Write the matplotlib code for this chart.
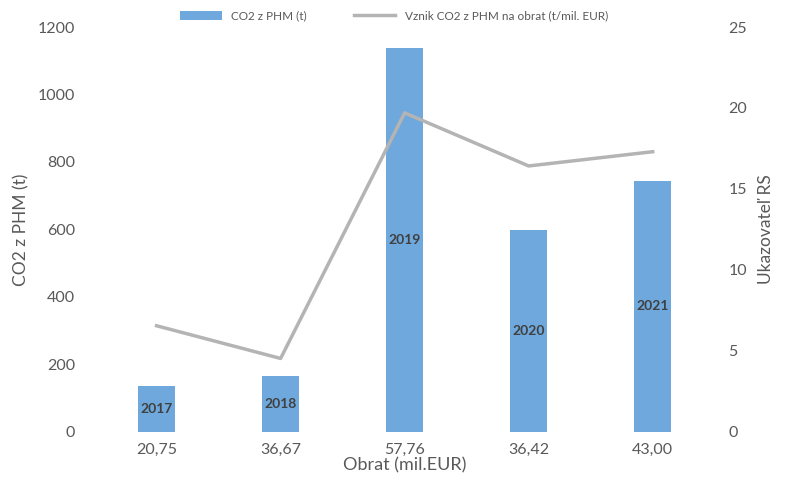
import matplotlib.pyplot as plt
import numpy as np

plt.rcParams['font.family'] = ['Lato', 'DejaVu Sans']

years = ['2017', '2018', '2019', '2020', '2021']
obrat_labels = ['20,75', '36,67', '57,76', '36,42', '43,00']
co2 = [136, 166, 1138, 598, 744]
co2_na_obrat = [6.55, 4.53, 19.7, 16.42, 17.3]

gray = '#595959'
fig = plt.figure(figsize=(7.88, 4.83), dpi=100)
ax = fig.add_axes([0.12, 0.106, 0.787, 0.838])
ax2 = ax.twinx()

x = np.arange(len(years))
bars = ax.bar(x, co2, width=0.3, color='#6ea8dc', label='CO2 z PHM (t)', zorder=2)
line, = ax2.plot(x, co2_na_obrat, color='#b4b4b4', lw=2.5,
                 label='Vznik CO2 z PHM na obrat (t/mil. EUR)')

for xi, v, yr in zip(x, co2, years):
    ax.text(xi, v / 2, yr, ha='center', va='center', fontsize=10,
            color='#404040', fontweight='bold', zorder=3)

ax.set_ylim(0, 1200)
ax.set_yticks(range(0, 1201, 200))
ax2.set_ylim(0, 25)
ax2.set_yticks(range(0, 26, 5))
ax.set_xlim(-0.5, 4.5)
ax.set_xticks(x)
ax.set_xticklabels(obrat_labels)

for a in (ax, ax2):
    for s in a.spines.values():
        s.set_visible(False)
    a.tick_params(length=0, labelsize=11.5, colors=gray, pad=8)
ax.tick_params(axis='y', pad=14)
ax2.tick_params(axis='y', pad=10)

ax.set_xlabel('Obrat (mil.EUR)', fontsize=13, color=gray, labelpad=0)
ax.set_ylabel('CO2 z PHM (t)', fontsize=12.5, color=gray, labelpad=6)
ax2.set_ylabel('Ukazovateľ RS', fontsize=12.5, color=gray, labelpad=8)

fig.legend([bars, line], [bars.get_label(), line.get_label()],
           loc='upper center', bbox_to_anchor=(0.5, 1.0), ncol=2,
           frameon=False, fontsize=8.5, labelcolor=gray,
           handlelength=3.5, columnspacing=4)

fig.savefig('out.png', dpi=100)
